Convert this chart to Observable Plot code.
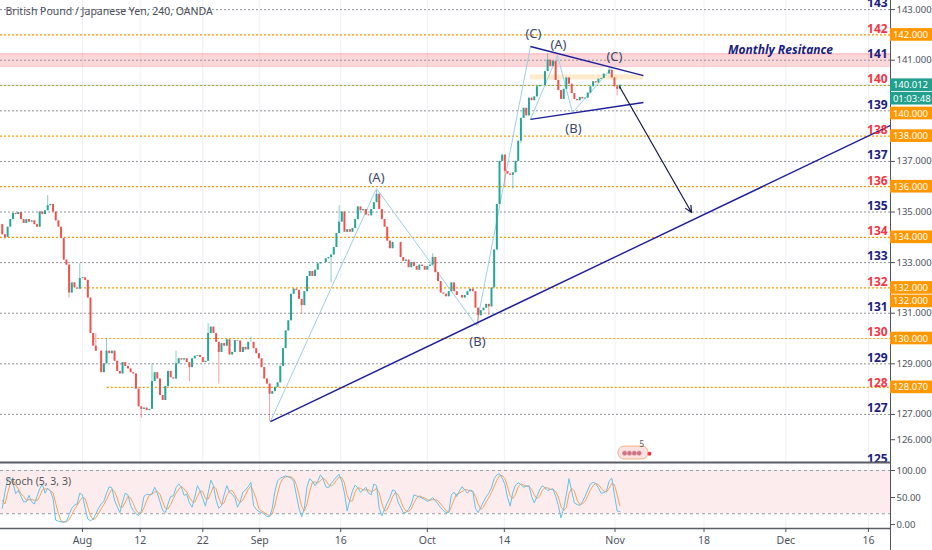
<!DOCTYPE html>
<html><head><meta charset="utf-8">
<script src="https://cdn.jsdelivr.net/npm/d3@7"></script>
<script src="https://cdn.jsdelivr.net/npm/@observablehq/plot@0.6"></script>
<style>
body{margin:0;background:#fff;font-family:"Noto Sans",sans-serif;}
#wrap{position:relative;width:932px;height:550px;overflow:hidden;background:#fff;}
#main,#stoch{position:absolute;left:0}
#main{top:0}
#stoch{top:462px}
svg{overflow:visible}
</style></head><body><div id="wrap"><div id="main"></div><div id="stoch"></div></div>
<script>
// ---------- DATA ----------
const title = "British Pound / Japanese Yen, 240, OANDA";
const dayTicks = [0, 7.2, 15, 22.1, 32.2, 43, 52.6, 66.4, 77.5, 87.7, 98];
const dayLabels = ["Aug","12","22","Sep","16","Oct","14","Nov","18","Dec","16"];
const firstOpen = 134.5;
const closes = [
134.1,134.0,134.4,134.7,134.94,134.9,134.98,134.7,134.55,134.7,
134.6,134.65,134.5,134.4,135.0,134.9,135.05,135.25,135.3,135.0,
134.65,134.4,133.95,133.1,132.9,131.8,132.2,132.0,131.95,132.37,
132.4,132.3,131.6,130.2,129.7,129.5,129.5,128.65,129.0,129.5,
129.4,129.5,129.1,128.7,128.6,129.05,128.9,128.8,128.65,128.6,
128.0,127.3,127.2,127.25,127.15,127.2,128.3,128.65,128.4,127.75,
127.55,128.1,128.7,128.45,128.4,129.0,129.2,129.15,129.2,129.05,
128.85,129.2,129.3,129.33,129.25,129.05,129.1,130.2,130.45,130.2,
129.85,129.45,129.8,129.7,129.95,129.35,129.45,129.92,129.9,129.45,
129.65,129.55,129.85,129.85,129.6,129.4,129.2,128.85,128.4,128.2,
127.8,127.9,128.07,128.25,128.9,129.6,130.3,130.7,131.75,131.95,
131.9,131.55,131.3,131.85,132.45,132.65,132.45,132.7,132.95,133.0,
133.0,133.15,133.2,133.3,133.6,134.15,134.6,135.0,134.2,134.3,
134.2,134.35,134.7,135.2,135.05,135.1,134.88,134.85,135.1,135.37,
135.7,135.1,134.7,134.4,133.85,133.55,133.8,133.8,133.8,133.2,
133.05,133.1,132.8,133.0,132.85,132.7,132.9,132.85,132.7,132.85,
132.9,133.2,132.6,132.25,131.8,131.75,131.65,131.85,132.2,131.85,
131.7,131.7,131.6,131.7,131.85,131.95,131.85,131.2,130.9,131.1,
131.2,131.35,131.25,132.0,133.5,135.3,137.0,137.25,136.6,136.5,
136.45,136.55,137.0,137.8,138.7,139.1,138.8,139.5,139.4,139.55,
139.95,140.0,140.0,140.55,141.0,140.75,140.95,140.2,139.8,139.45,
139.85,140.3,140.05,139.68,139.45,139.4,139.53,139.47,139.5,139.7,
139.95,140.15,140.1,140.25,140.28,140.45,140.45,140.6,140.3,139.95,
139.85,140.01];
// notable wicks: [bar, high, low]
const wicks = [
[1,null,133.9],[17,135.65,null],[25,null,131.6],[29,132.96,null],[35,130.2,null],[39,130.0,null],
[52,null,126.84],[56,129.0,null],[65,129.5,null],[70,null,128.3],[77,130.6,null],
[81,null,128.2],[93,130.05,null],[100,null,126.72],[112,null,130.95],[123,null,132.2],
[126,135.25,null],[140,135.85,null],[161,133.35,null],[178,null,130.5],[182,null,130.9],
[188,null,136.0],[191,null,135.9],[194,null,137.7],[204,141.25,null],[227,140.7,null],[230,null,139.6]];
const stochK = [
30,60,84,85,78,57,63,52,42,42,54,42,38,52,66,75,58,67,62,48,
8,6,5,4,6,18,30,36,38,58,55,30,10,7,10,20,30,38,43,58,
70,68,45,33,22,42,58,55,35,26,20,17,25,52,56,55,57,69,58,42,
26,22,38,52,53,68,75,69,54,56,40,32,51,72,62,48,34,58,82,72,
45,30,35,55,72,60,56,50,32,42,60,64,70,78,35,28,24,22,19,15,
15,30,62,81,86,88,90,88,86,80,55,30,14,30,70,85,80,72,80,92,
85,70,68,76,82,88,93,80,58,25,45,62,73,68,60,64,69,58,55,75,
72,30,16,28,40,50,64,62,42,32,22,22,28,38,55,53,51,49,46,43,
45,50,44,38,31,26,22,22,55,60,52,62,70,64,58,64,62,30,22,32,
42,51,58,68,85,92,94,86,74,50,34,60,73,77,74,69,71,72,52,40,
52,64,72,68,63,65,66,52,35,12,30,55,85,62,40,37,35,42,52,64,
75,78,76,68,58,59,62,80,86,55,25,24];
const stochD = [
45,38,58,76,82,73,66,57,52,45,46,46,45,44,52,64,66,66,62,59,
39,21,6,5,5,9,18,28,35,44,50,48,32,16,9,12,20,29,37,46,
57,65,61,49,33,32,41,52,49,39,27,21,21,31,44,54,56,60,61,56,
42,30,29,37,48,58,65,71,66,60,50,43,41,52,62,61,48,47,58,71,
66,49,37,40,54,62,63,55,46,41,45,55,65,71,61,47,29,25,22,19,
16,20,36,58,76,85,88,89,88,85,74,55,33,25,38,62,78,79,77,81,
86,82,74,71,75,82,88,87,77,54,43,44,60,68,67,64,64,64,61,63,
67,59,39,25,28,39,51,59,56,45,32,25,24,29,40,49,53,51,49,46,
45,46,46,44,38,32,26,23,33,46,56,58,61,65,64,62,61,52,38,28,
32,42,50,59,70,82,90,91,85,70,53,48,56,70,75,73,71,71,65,55,
48,52,63,68,68,65,65,61,51,33,26,32,57,67,62,46,37,38,43,53,
64,72,76,74,67,62,60,67,76,74,55,35];
const grayLevels = [143,141,139,137,135,133,131,129,127];
const orangeLevels = [142,140,138,136,134,132,130,128.07];
const orangeStartDay = [null,null,null,null,null,-0.25,1.4,3.1];
const navyLabels = [143,141,139,137,135,133,131,129,127,125];
const redLabels = [142,140,138,136,134,132,130,128];
const axisGrayTicks = [143,141,137,135,133,131,129,127,126];
const orangeTags = [142,140,138,136,134,132,132,130,128.07];
const lastPrice = 140.012, countdown = "01:03:48";
const resistanceBand = [140.75,141.25];
const consolidationBand = [140.22,140.42];
// wave pivots [day, price]
const waveABC = [[23.44,126.72],[36.66,135.93],[49.13,130.51],[55.86,141.54]];
const waveTri = [[55.86,138.66],[59.23,141.19],[61.1,138.93],[65.96,140.67]];
const waveLabels = [
 {d:36.66,p:136.36,t:"(A)"},{d:49.25,p:129.88,t:"(B)"},{d:56.23,p:142.06,t:"(C)"},
 {d:59.35,p:141.62,t:"(A)"},{d:61.22,p:138.30,t:"(B)"},{d:66.33,p:141.15,t:"(C)"}];
const trendLines = [
 {d1:23.44,p1:126.72,d2:100.75,p2:138.42},
 {d1:55.86,p1:141.54,d2:69.95,p2:140.39},
 {d1:55.86,p1:138.66,d2:69.95,p2:139.33}];
const forecastArrow = {d1:66.96,p1:139.96,d2:75.94,p2:134.98};
const noteText = "Monthly Resitance";
const noteAt = {d:87.03,p:141.38};
const stochLevels = [100,20];
const stochAxisTicks = [100,50,0];

// ---------- BUILD ----------
const X0 = -10.22, X1 = 100.75, XR = 106.5;
const up = "#26a69a", down = "#ef5350";
const navy = "#1a2080", red = "#f23645";
const wickMap = new Map(wicks.map(w => [w[0], w]));
const candles = closes.map((c, i) => {
  const o = i === 0 ? firstOpen : closes[i-1];
  const w = wickMap.get(i) || [i, null, null];
  return {d: -10 + i/3, o, c,
    h: w[1] != null ? w[1] : Math.max(o, c),
    l: w[2] != null ? w[2] : Math.min(o, c),
    col: c >= o ? up : down};
});
const oLines = orangeLevels.map((p, i) => ({p, s: orangeStartDay[i] == null ? X0 : orangeStartDay[i]}));
const tagShift = [0, 28, 0, 0, 0, 0, 13.5, 0, 0];
const font = "'Noto Sans', sans-serif";
const tagX = X1 + 0.3, tagFont = 9.5, tagH = 0.25;

const tagMarks = [];
orangeTags.forEach((p, i) => {
  tagMarks.push(Plot.rect([{p}], {x1: X1, x2: XR, y1: d => d.p - tagH, y2: d => d.p + tagH, fill: "#ff9800", dy: tagShift[i]}));
  tagMarks.push(Plot.text([{p}], {x: tagX, y: "p", text: d => d.p.toFixed(3), fill: "white", fontSize: tagFont, textAnchor: "start", dy: tagShift[i]}));
});
tagMarks.push(Plot.rect([{p: lastPrice}], {x1: X1, x2: XR, y1: d => d.p - tagH, y2: d => d.p + tagH, fill: "#22a08d"}));
tagMarks.push(Plot.text([{p: lastPrice}], {x: tagX, y: "p", text: d => d.p.toFixed(3), fill: "white", fontSize: tagFont, textAnchor: "start"}));
tagMarks.push(Plot.rect([{p: lastPrice}], {x1: X1, x2: XR, y1: d => d.p - tagH, y2: d => d.p + tagH, fill: "#22a08d", dy: 13.5}));
tagMarks.push(Plot.text([{p: lastPrice}], {x: tagX, y: "p", text: () => countdown, fill: "white", fontSize: tagFont, textAnchor: "start", dy: 13.5}));

const main = Plot.plot({
  width: 932, height: 462, marginLeft: 0, marginRight: 42, marginTop: 0, marginBottom: 0,
  x: {domain: [X0, X1], axis: null},
  y: {domain: [125.1, 143.36], axis: null},
  color: {type: "identity"},
  style: {fontFamily: font, background: "white", overflow: "visible"},
  marks: [
    Plot.ruleX(dayTicks, {stroke: "#eef1f6"}),
    Plot.rect([{a: resistanceBand[0], b: resistanceBand[1]}], {x1: X0, x2: X1, y1: "a", y2: "b", fill: "#f23645", fillOpacity: 0.2}),
    Plot.ruleY(resistanceBand, {x1: X0, x2: X1, stroke: "#f23645", strokeOpacity: 0.25}),
    Plot.rect([{a: consolidationBand[0], b: consolidationBand[1]}], {x1: 55.86, x2: 69.95, y1: "a", y2: "b", fill: "#ff9800", fillOpacity: 0.2}),
    Plot.ruleY(grayLevels, {x1: X0, x2: X1, stroke: "#8f929b", strokeDasharray: "2,2"}),
    Plot.ruleY(oLines, {y: "p", x1: "s", x2: X1, stroke: "#ff9800", strokeDasharray: "2,2", strokeWidth: 1.2}),
    Plot.ruleY([lastPrice], {x1: X0, x2: X1, stroke: "#22a08d", strokeOpacity: 0.35}),
    Plot.line(waveABC, {x: d => d[0], y: d => d[1], stroke: "#9ccfe8", strokeWidth: 1}),
    Plot.line(waveTri, {x: d => d[0], y: d => d[1], stroke: "#9ccfe8", strokeWidth: 1}),
    Plot.ruleX(candles, {x: "d", y1: "l", y2: "h", stroke: "col", strokeOpacity: 0.55, strokeWidth: 1}),
    Plot.ruleX(candles, {x: "d", y1: "o", y2: "c", stroke: "col", strokeWidth: 2}),
    Plot.link(trendLines, {x1: "d1", y1: "p1", x2: "d2", y2: "p2", stroke: "#1c1f9c", strokeWidth: 1.4}),
    Plot.arrow([forecastArrow], {x1: "d1", y1: "p1", x2: "d2", y2: "p2", stroke: "#141a4a", strokeWidth: 1.2, headLength: 9, headAngle: 50}),
    Plot.text(waveLabels, {x: "d", y: "p", text: "t", fill: "#38476b", fontSize: 13}),
    Plot.text([noteText], {x: noteAt.d, y: noteAt.p, text: d => d, fill: navy, fontSize: 12, fontWeight: "bold", fontStyle: "italic"}),
    Plot.text(navyLabels, {x: 100.4, y: d => d, text: d => String(d), dy: -6, textAnchor: "end", fill: navy, fontWeight: "bold", fontSize: 12}),
    Plot.text(redLabels, {x: 100.4, y: d => d, text: d => String(d), dy: -6, textAnchor: "end", fill: red, fontWeight: "bold", fontSize: 12}),
    Plot.text([title], {frameAnchor: "top-left", dx: 5, dy: 7, text: d => d, fill: "#4a4e5a", fontSize: 10.5}),
    // small event badge
    Plot.rect([{x1: 66.83, x2: 70.57, y1: 125.22, y2: 125.73}], {x1: "x1", x2: "x2", y1: "y1", y2: "y2", rx: 6, fill: "#fbe1e1", stroke: "#f4b183"}),
    Plot.dot([[67.6,125.47],[68.2,125.47],[68.8,125.47],[69.4,125.47]], {x: d => d[0], y: d => d[1], r: 2.2, fill: "#c9748b", stroke: "#e58b8b", strokeWidth: 0.6}),
    Plot.dot([[70.7,125.45]], {x: d => d[0], y: d => d[1], r: 2, fill: "#f23645"}),
    Plot.text([[69.75,125.8]], {x: d => d[0], y: d => d[1], text: () => "5", fontSize: 8, fill: "#555"}),
    Plot.ruleX([X1], {stroke: "#50535e", strokeWidth: 1}),
    Plot.axisY({anchor: "right", ticks: axisGrayTicks, tickFormat: d => d.toFixed(3), tickSize: 4, tickPadding: 2, fontSize: 9.5, color: "#4c525e", label: null}),
    ...tagMarks
  ]
});
document.getElementById("main").append(main);

const kd = stochK.map((k, i) => ({d: -10 + i/3, k, dd: stochD[i]}));
const labelMap = new Map(dayTicks.map((t, i) => [t, dayLabels[i]]));
const stoch = Plot.plot({
  width: 932, height: 88, marginLeft: 0, marginRight: 42, marginTop: 0, marginBottom: 22,
  x: {domain: [X0, X1], axis: null, label: null},
  y: {domain: [-7.4, 114.8], axis: null, label: null},
  style: {fontFamily: font, background: "white", overflow: "visible"},
  marks: [
    Plot.ruleX(dayTicks, {stroke: "#eef1f6"}),
    Plot.rect([{a: stochLevels[1], b: stochLevels[0]}], {x1: X0, x2: X1, y1: "a", y2: "b", fill: "#fdecee"}),
    Plot.ruleY(stochLevels, {x1: X0, x2: X1, stroke: "#9a9ca3", strokeDasharray: "3,3"}),
    Plot.line(kd, {x: "d", y: "dd", stroke: "#f5a25d", strokeWidth: 1}),
    Plot.line(kd, {x: "d", y: "k", stroke: "#64c1e8", strokeWidth: 1}),
    Plot.text(["Stoch (5, 3, 3)"], {frameAnchor: "top-left", dx: 5, dy: 15, text: d => d, fill: "#555", fontSize: 10.5}),
    Plot.ruleY([114.8], {x1: X0, x2: X1, stroke: "#5a5d66", strokeWidth: 2}),
    Plot.ruleY([-7.4], {x1: X0, x2: X1, stroke: "#5a5d66", strokeWidth: 1.5}),
    Plot.ruleX([X1], {y1: -48, y2: 114.8, stroke: "#50535e"}),
    Plot.axisY({anchor: "right", ticks: stochAxisTicks, tickFormat: d => d.toFixed(2), tickSize: 4, tickPadding: 2, fontSize: 9.5, color: "#4c525e", label: null}),
    Plot.axisX({anchor: "bottom", ticks: dayTicks, tickFormat: d => labelMap.get(d), tickSize: 4, tickPadding: 4, fontSize: 10.5, color: "#4c525e", label: null})
  ]
});
document.getElementById("stoch").append(stoch);
</script></body></html>
